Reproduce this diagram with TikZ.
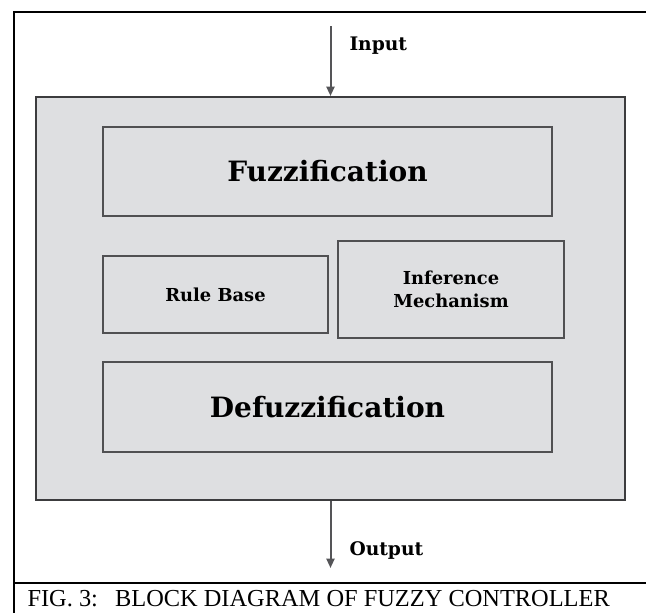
\documentclass[tikz,border=0pt]{standalone}
\usepackage{fontspec}
\setmainfont{Liberation Serif}
\newfontfamily\blockfont{DejaVu Serif}
\usetikzlibrary{arrows.meta}

\tikzset{every picture/.style={line width=0.75pt}}
\tikzset{
  block/.style={draw={rgb, 255:red, 80; green, 80; blue, 82}, line width=1.5pt,
    fill={rgb, 255:red, 222; green, 223; blue, 225}, inner sep=0pt, align=center},
  flow/.style={draw={rgb, 255:red, 85; green, 85; blue, 88}, line width=1.5pt,
    -{Triangle[length=7pt,width=6pt]}},
  label/.style={anchor=base west, inner sep=0pt}
}

\begin{document}
\begin{tikzpicture}[x=0.75pt,y=0.75pt,yscale=-1,xscale=1]
\path [use as bounding box] (0,0) rectangle (646,612);
\clip (0,0) rectangle (646,612);

%Shape: Rectangle [frame]
\draw [line width=1.5pt] (14,12) rectangle (680,650);
%Straight Lines [caption rule]
\draw [line width=1.5pt] (14,583) -- (680,583);

%Shape: Rectangle [controller]
\node [block, draw={rgb, 255:red, 60; green, 60; blue, 62}, minimum width=441.75pt, minimum height=302.25pt] (ctrl) at (330.5,298.5) {};
%Shape: Rectangle [fuzzification]
\node [block, minimum width=336.75pt, minimum height=66.75pt, font=\blockfont\bfseries\fontsize{21}{25}\selectfont] (fuzz) at (327.5,171.5) {Fuzzification};
%Shape: Rectangle [rule base]
\node [block, minimum width=168.75pt, minimum height=57.75pt, font=\blockfont\bfseries\fontsize{13.4}{17.2}\selectfont] (rules) at (215.5,294.5) {Rule Base};
%Shape: Rectangle [inference]
\node [block, minimum width=169.5pt, minimum height=72.75pt, font=\blockfont\bfseries\fontsize{13.4}{17.2}\selectfont] (infer) at (451,289.5) {Inference\\Mechanism};
%Shape: Rectangle [defuzzification]
\node [block, minimum width=336.75pt, minimum height=67.5pt, font=\blockfont\bfseries\fontsize{21}{25}\selectfont] (defuzz) at (327.5,407) {Defuzzification};

%Straight Lines [input / output]
\coordinate (in) at (330.5,26);
\coordinate (out) at (330.5,568);
\draw [flow] (in) -- (ctrl.north);
\draw [flow] (ctrl.south) -- (out);

% Text Node
\node [label, font=\blockfont\bfseries\fontsize{14}{17}\selectfont] (inlbl) at (349,50) {Input};
% Text Node
\node [label, font=\blockfont\bfseries\fontsize{14}{17}\selectfont] (outlbl) at (349,555) {Output};
% Text Node
\node [label, font=\fontsize{18.3}{22}\selectfont] (caption) at (27,606) {FIG. 3:\hspace{0.7em}BLOCK DIAGRAM OF FUZZY CONTROLLER};

\end{tikzpicture}
\end{document}
